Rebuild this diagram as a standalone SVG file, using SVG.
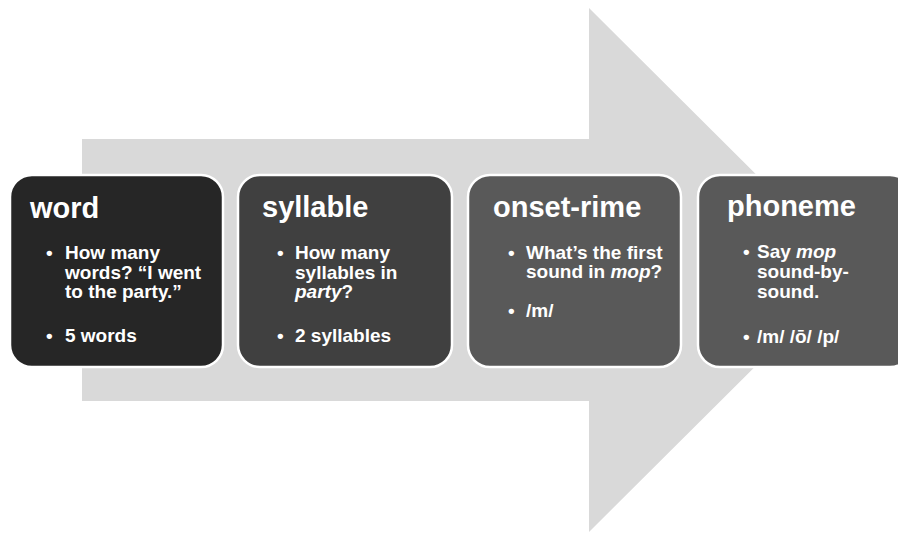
<svg xmlns="http://www.w3.org/2000/svg" width="898" height="533" viewBox="0 0 898 533">
<style>
.box{stroke:#ffffff;stroke-width:2.5}
.t{font-family:"Liberation Sans",Arial,sans-serif;fill:#ffffff;font-weight:bold}
.title{font-size:29px}
.b{font-size:19px}
</style>
<rect width="898" height="533" fill="#ffffff"/>
<g id="arrow">
<polygon points="82,139 589,139 589,8 852,270 589,532 589,401 82,401" fill="#d9d9d9"/>
</g>
<g id="node-word">
<rect class="box" x="10" y="175" width="213" height="192" rx="22" fill="#262626"/>
<text class="t title" x="30" y="218">word</text>
<text class="t b" x="46" y="259">•</text>
<text class="t b" x="65" y="259">How many</text>
<text class="t b" x="65" y="279">words? “I went</text>
<text class="t b" x="65" y="298">to the party.”</text>
<text class="t b" x="46" y="342">•</text>
<text class="t b" x="65" y="342">5 words</text>
</g>
<g id="node-syllable">
<rect class="box" x="238" y="175" width="214" height="192" rx="22" fill="#404040"/>
<text class="t title" x="262" y="217">syllable</text>
<text class="t b" x="277" y="259">•</text>
<text class="t b" x="295" y="259">How many</text>
<text class="t b" x="295" y="279">syllables in</text>
<text class="t b" x="295" y="298"><tspan font-style="italic">party</tspan>?</text>
<text class="t b" x="277" y="342">•</text>
<text class="t b" x="295" y="342">2 syllables</text>
</g>
<g id="node-onset-rime">
<rect class="box" x="468" y="175" width="213" height="192" rx="22" fill="#595959"/>
<text class="t title" x="493" y="217">onset-rime</text>
<text class="t b" x="508" y="259">•</text>
<text class="t b" x="526" y="259">What’s the first</text>
<text class="t b" x="526" y="278">sound in <tspan font-style="italic">mop</tspan>?</text>
<text class="t b" x="508" y="317">•</text>
<text class="t b" x="526" y="317">/m/</text>
</g>
<g id="node-phoneme">
<rect class="box" x="698" y="175" width="214" height="192" rx="22" fill="#595959"/>
<text class="t title" x="727" y="216">phoneme</text>
<text class="t b" x="743" y="258">•</text>
<text class="t b" x="757" y="258">Say <tspan font-style="italic">mop</tspan></text>
<text class="t b" x="757" y="278">sound-by-</text>
<text class="t b" x="757" y="298">sound.</text>
<text class="t b" x="743" y="343">•</text>
<text class="t b" x="757" y="343">/m/ /ō/ /p/</text>
</g>
<g id="connectors"></g>
</svg>
